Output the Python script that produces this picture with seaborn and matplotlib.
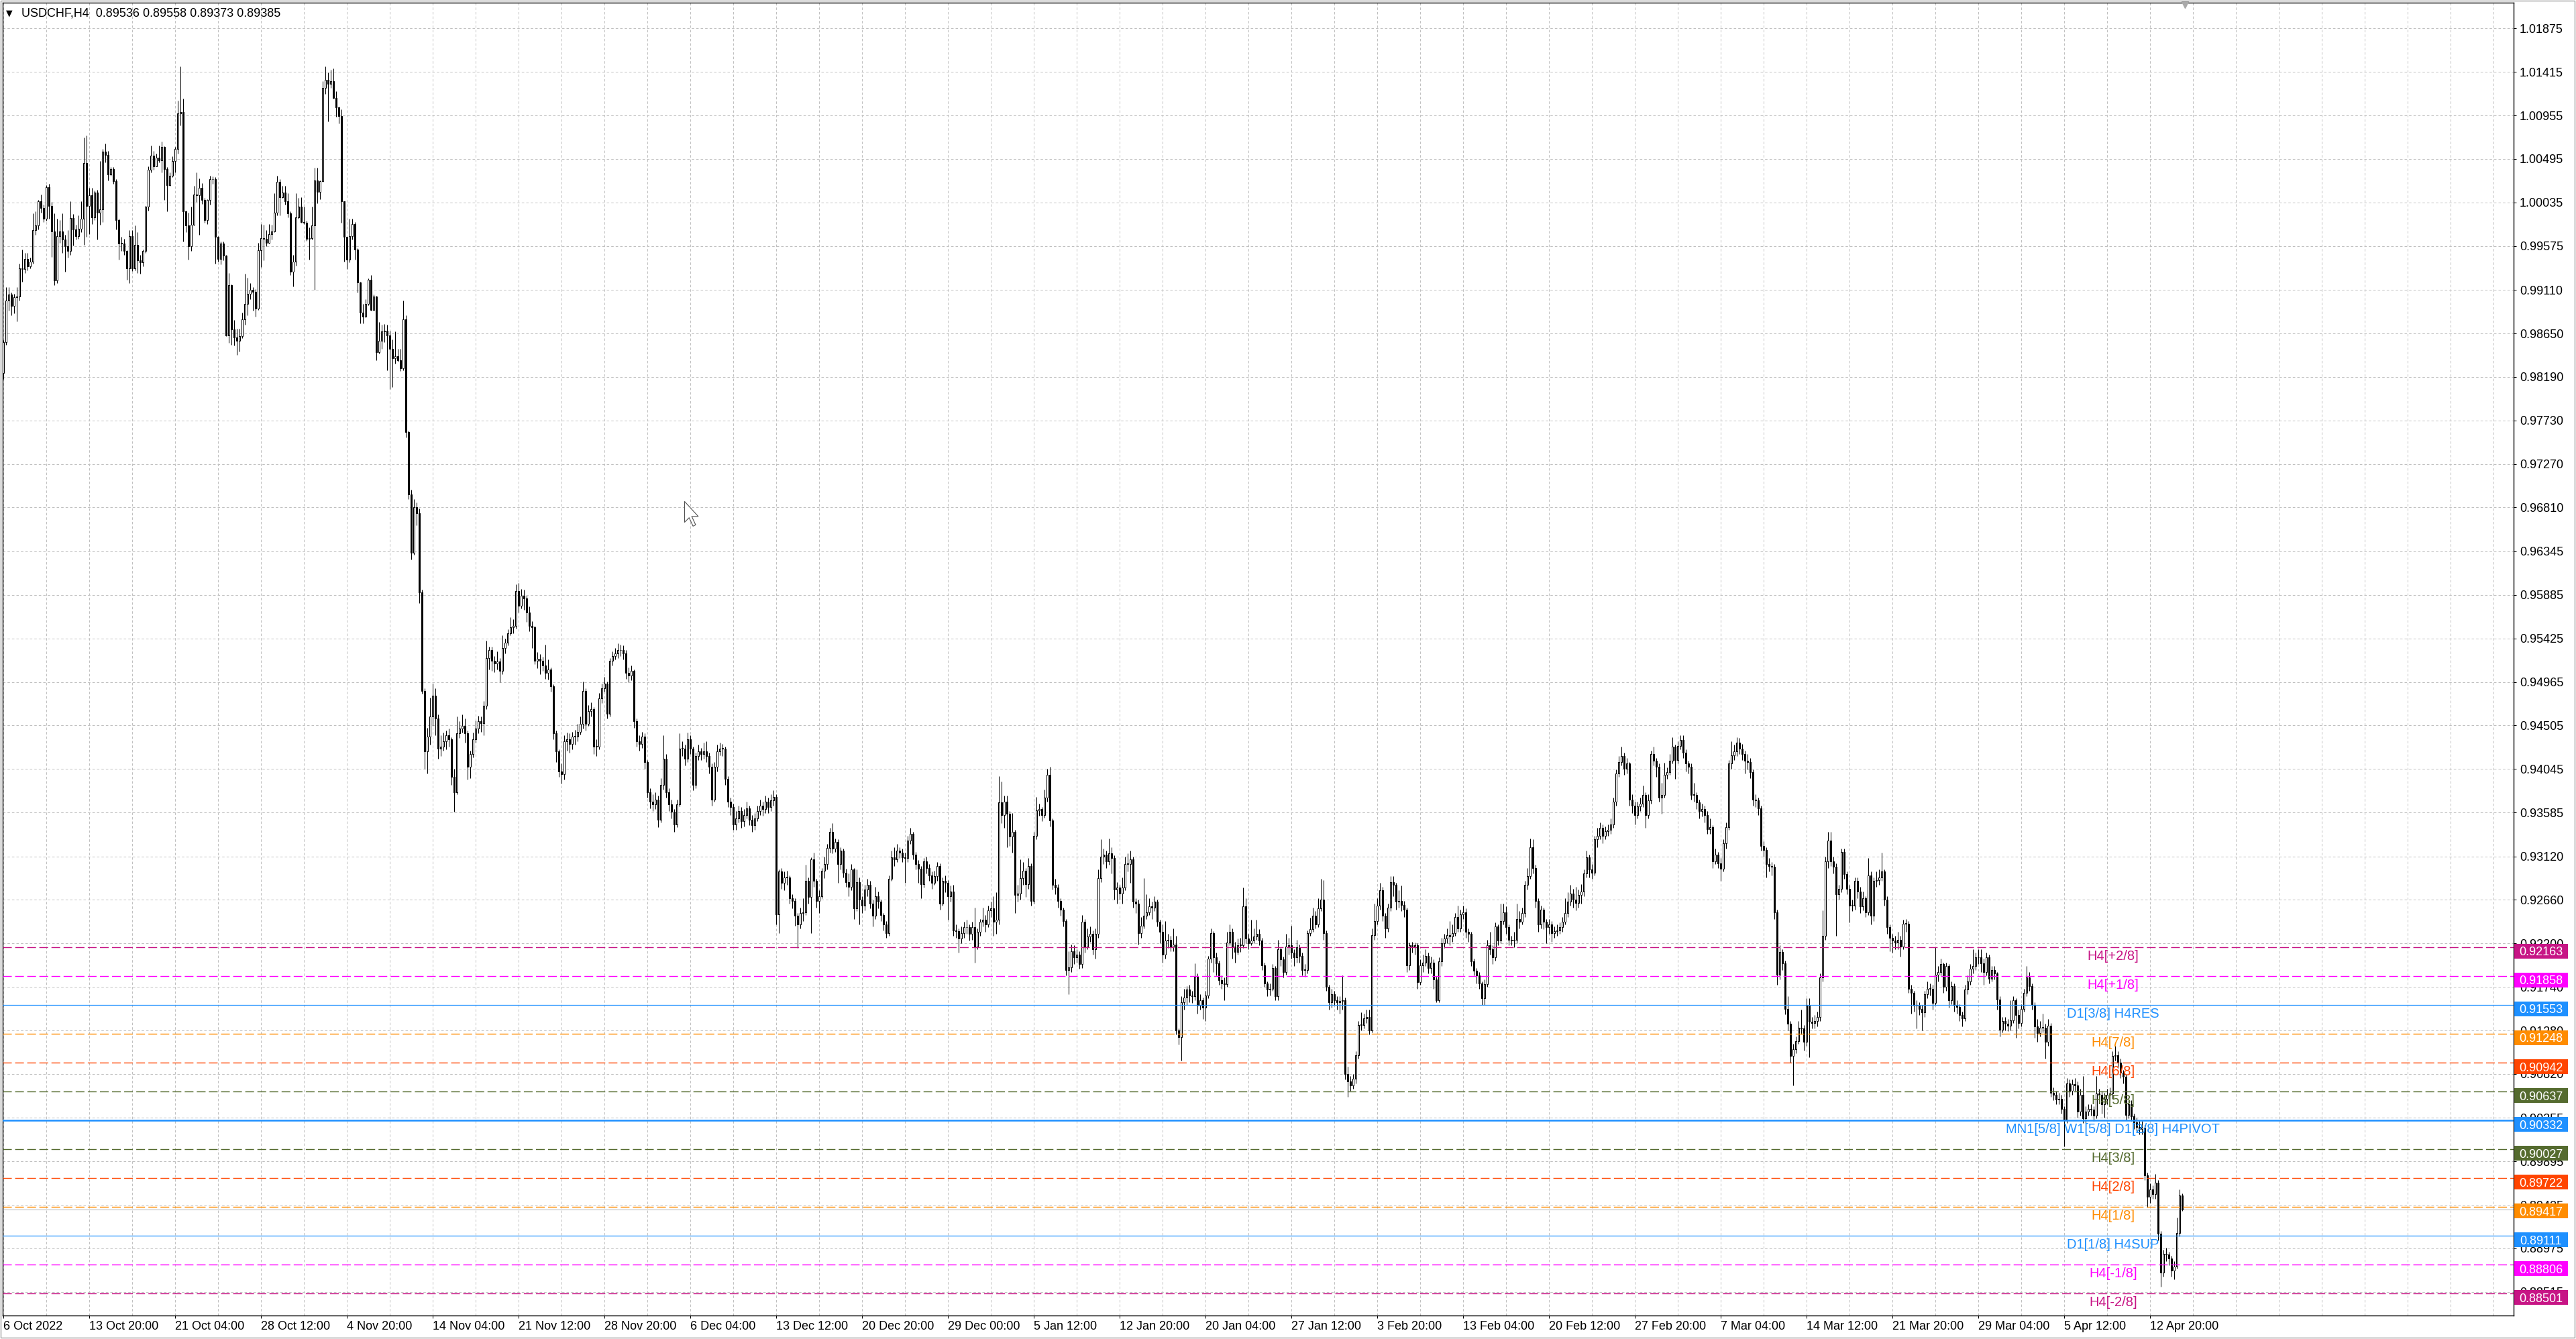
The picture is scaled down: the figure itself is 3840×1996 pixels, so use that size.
import numpy as np
import pandas as pd
import matplotlib
matplotlib.use("Agg")
import matplotlib.pyplot as plt
import seaborn as sns
from matplotlib.patches import Rectangle
from matplotlib.transforms import blended_transform_factory, offset_copy
from matplotlib.ticker import FixedLocator, FixedFormatter
from matplotlib.path import Path
from matplotlib.markers import MarkerStyle

sns.set_theme(style="white")
plt.rcParams["font.family"] = ["Liberation Sans", "DejaVu Sans"]
plt.rcParams["lines.scale_dashes"] = False

# ---------------- data (prices in pips, 1 pip = 0.0001) ----------------
symbol_title = "USDCHF,H4  0.89536 0.89558 0.89373 0.89385"
first_open = 9823

closes = [
    9856, 9900, 9906, 9894, 9903, 9904, 9934, 9933, 9944, 9936,          # 0
    9941, 9974, 9979, 10005, 9998, 9986, 10020, 10000, 9973, 9921,       # 10
    9968, 9973, 9964, 9957, 9952, 9987, 9975, 9968, 9976, 9986,          # 20
    10045, 10000, 10011, 9988, 10014, 9993, 9996, 10057, 10054, 10033,   # 30
    10039, 10026, 9985, 9960, 9960, 9952, 9934, 9968, 9934, 9959,        # 40
    9942, 9940, 9952, 9999, 10038, 10053, 10042, 10051, 10048, 10062,    # 50
    10039, 10022, 10032, 10047, 10060, 10098, 10099, 9994, 9979, 9957,   # 60
    9980, 10012, 10011, 10019, 10006, 9985, 10006, 10028, 10028, 9967,   # 70
    9944, 9960, 9947, 9863, 9916, 9869, 9861, 9857, 9862, 9880,          # 80
    9896, 9907, 9911, 9909, 9891, 9953, 9966, 9965, 9961, 9970,          # 90
    9973, 9993, 10025, 10009, 10014, 10005, 9992, 9930, 9941, 9988,      # 100
    9999, 9983, 9982, 9965, 9966, 9979, 10027, 10015, 10026, 10125,      # 110
    10133, 10129, 10132, 10114, 10104, 10095, 10005, 9967, 9943, 9968,   # 120
    9981, 9954, 9919, 9887, 9883, 9896, 9922, 9890, 9904, 9845,          # 130
    9857, 9867, 9868, 9863, 9849, 9839, 9841, 9837, 9828, 9880,          # 140
    9761, 9695, 9633, 9681, 9675, 9591, 9487, 9423, 9439, 9460,          # 150
    9482, 9458, 9426, 9428, 9434, 9440, 9436, 9396, 9380, 9442,          # 160
    9447, 9450, 9442, 9407, 9420, 9436, 9447, 9455, 9453, 9471,          # 170
    9522, 9530, 9519, 9516, 9518, 9508, 9532, 9538, 9548, 9554,          # 180
    9556, 9593, 9577, 9588, 9585, 9570, 9556, 9554, 9519, 9521,          # 190
    9519, 9514, 9506, 9510, 9492, 9442, 9423, 9402, 9399, 9434,          # 200
    9436, 9431, 9439, 9439, 9444, 9452, 9487, 9452, 9466, 9468,          # 210
    9428, 9428, 9479, 9490, 9495, 9463, 9519, 9524, 9527, 9530,          # 220
    9530, 9527, 9506, 9503, 9508, 9455, 9434, 9431, 9439, 9412,          # 230
    9380, 9370, 9367, 9372, 9351, 9388, 9415, 9380, 9367, 9359,          # 240
    9346, 9367, 9426, 9426, 9415, 9436, 9426, 9388, 9418, 9423,          # 250
    9420, 9423, 9418, 9407, 9372, 9407, 9423, 9426, 9426, 9394,          # 260
    9370, 9364, 9346, 9352, 9360, 9349, 9356, 9363, 9351, 9345,          # 270
    9352, 9360, 9366, 9362, 9370, 9364, 9371, 9375, 9251, 9296,          # 280
    9284, 9290, 9290, 9268, 9265, 9249, 9240, 9252, 9253, 9286,          # 290
    9269, 9309, 9286, 9265, 9270, 9297, 9304, 9321, 9338, 9320,          # 300
    9327, 9304, 9318, 9295, 9285, 9280, 9298, 9257, 9285, 9266,          # 310
    9260, 9277, 9282, 9262, 9249, 9270, 9264, 9250, 9240, 9231,          # 320
    9288, 9311, 9309, 9318, 9316, 9311, 9310, 9329, 9336, 9314,          # 330
    9304, 9299, 9283, 9307, 9300, 9292, 9284, 9291, 9302, 9262,          # 340
    9286, 9284, 9270, 9275, 9234, 9233, 9225, 9231, 9237, 9237,          # 350
    9230, 9237, 9217, 9232, 9243, 9245, 9240, 9255, 9257, 9243,          # 360
    9245, 9369, 9356, 9370, 9357, 9333, 9338, 9271, 9273, 9289,          # 370
    9297, 9283, 9302, 9265, 9334, 9361, 9362, 9356, 9374, 9398,          # 380
    9350, 9282, 9279, 9265, 9256, 9244, 9192, 9195, 9212, 9205,          # 390
    9208, 9198, 9243, 9217, 9227, 9230, 9214, 9230, 9289, 9312,          # 400
    9314, 9307, 9315, 9310, 9277, 9279, 9273, 9279, 9304, 9304,          # 410
    9309, 9264, 9262, 9231, 9239, 9249, 9253, 9259, 9258, 9264,          # 420
    9243, 9232, 9208, 9223, 9224, 9217, 9219, 9128, 9121, 9158,          # 430
    9163, 9171, 9165, 9164, 9185, 9154, 9160, 9152, 9165, 9204,          # 440
    9231, 9205, 9199, 9181, 9178, 9177, 9221, 9232, 9217, 9211,          # 450
    9218, 9218, 9259, 9225, 9220, 9223, 9227, 9230, 9223, 9197,          # 460
    9178, 9171, 9172, 9194, 9164, 9214, 9203, 9190, 9217, 9218,          # 470
    9210, 9205, 9216, 9207, 9192, 9192, 9231, 9235, 9249, 9240,          # 480
    9257, 9266, 9231, 9174, 9158, 9166, 9160, 9158, 9159, 9160,          # 490
    9082, 9074, 9070, 9077, 9102, 9134, 9134, 9141, 9142, 9128,          # 500
    9229, 9244, 9260, 9276, 9249, 9236, 9258, 9285, 9282, 9264,          # 510
    9265, 9261, 9256, 9197, 9218, 9217, 9218, 9179, 9197, 9200,          # 520
    9207, 9194, 9200, 9182, 9160, 9201, 9220, 9225, 9229, 9227,          # 530
    9231, 9248, 9236, 9251, 9253, 9232, 9230, 9201, 9191, 9186,          # 540
    9178, 9162, 9177, 9218, 9214, 9205, 9238, 9223, 9244, 9253,          # 550
    9237, 9224, 9223, 9224, 9246, 9243, 9252, 9282, 9291, 9322,          # 560
    9300, 9265, 9240, 9256, 9243, 9237, 9240, 9231, 9233, 9234,          # 570
    9237, 9243, 9252, 9264, 9273, 9266, 9263, 9271, 9275, 9294,          # 580
    9311, 9298, 9295, 9330, 9334, 9342, 9334, 9339, 9340, 9346,          # 590
    9370, 9400, 9412, 9418, 9405, 9410, 9372, 9366, 9356, 9365,          # 600
    9368, 9377, 9356, 9371, 9420, 9413, 9407, 9374, 9377, 9398,          # 610
    9401, 9413, 9428, 9414, 9429, 9435, 9422, 9410, 9407, 9377,          # 620
    9377, 9369, 9360, 9362, 9356, 9341, 9343, 9307, 9314, 9305,          # 630
    9299, 9326, 9343, 9410, 9419, 9423, 9432, 9426, 9420, 9413,          # 640
    9412, 9401, 9372, 9371, 9363, 9323, 9319, 9304, 9302, 9301,          # 650
    9253, 9187, 9211, 9199, 9151, 9135, 9101, 9108, 9117, 9131,          # 660
    9130, 9116, 9154, 9137, 9136, 9138, 9142, 9184, 9228, 9307,          # 670
    9329, 9307, 9301, 9272, 9278, 9317, 9293, 9278, 9260, 9260,          # 680
    9286, 9275, 9259, 9268, 9253, 9292, 9249, 9286, 9287, 9290,          # 690
    9296, 9266, 9237, 9226, 9223, 9221, 9224, 9217, 9241, 9241,          # 700
    9172, 9168, 9154, 9154, 9151, 9147, 9166, 9172, 9172, 9157,          # 710
    9187, 9190, 9198, 9174, 9196, 9160, 9175, 9154, 9153, 9144,          # 720
    9141, 9171, 9180, 9193, 9196, 9205, 9205, 9199, 9190, 9205,          # 730
    9183, 9192, 9188, 9161, 9129, 9138, 9135, 9133, 9139, 9160,          # 740
    9144, 9136, 9151, 9168, 9184, 9175, 9155, 9132, 9125, 9131,          # 750
    9131, 9116, 9133, 9062, 9060, 9055, 9056, 9045, 9033, 9072,          # 760
    9064, 9071, 9070, 9042, 9060, 9035, 9042, 9045, 9044, 9038,          # 770
    9061, 9060, 9050, 9056, 9060, 9061, 9101, 9102, 9094, 9083,          # 780
    9079, 9039, 9050, 9037, 9031, 9026, 9024, 9025, 8975, 8952,          # 790
    8960, 8955, 8967, 8913, 8872, 8892, 8891, 8887, 8874, 8878,          # 800
    8914, 8953.6, 8938.5,                                                # 810
]

highs = [
    9858, 9914, 9914, 9908, 9907, 9914, 9939, 9954, 9950, 9950,
    9945, 9992, 9994, 10006, 10012, 10001, 10022, 10023, 10004, 9992,
    9986, 9985, 9992, 9969, 9974, 10005, 9991, 9980, 9990, 10005,
    10072, 10074, 10019, 10019, 10016, 10017, 10047, 10060, 10066, 10058,
    10041, 10041, 10028, 9986, 9967, 9965, 9953, 9974, 9974, 9979,
    9972, 9948, 9954, 10000, 10042, 10064, 10058, 10055, 10064, 10068,
    10063, 10041, 10035, 10052, 10062, 10111, 10147, 10113, 9995, 9993,
    9999, 10021, 10035, 10029, 10024, 10008, 10007, 10032, 10031, 10030,
    9968, 9962, 9962, 9948, 9929, 9917, 9879, 9870, 9870, 9887,
    9928, 9924, 9918, 9914, 9912, 9961, 9981, 9980, 9974, 9981,
    9980, 10013, 10032, 10028, 10021, 10021, 10013, 9994, 9948, 10013,
    10008, 10009, 9999, 9984, 9977, 9999, 10040, 10040, 10027, 10132,
    10147, 10141, 10144, 10145, 10121, 10105, 10102, 10005, 9967, 9986,
    9986, 9983, 9955, 9920, 9896, 9901, 9923, 9927, 9906, 9905,
    9877, 9874, 9875, 9874, 9868, 9859, 9867, 9849, 9849, 9900,
    9884, 9762, 9700, 9690, 9686, 9680, 9594, 9490, 9448, 9480,
    9495, 9490, 9462, 9440, 9443, 9445, 9447, 9438, 9405, 9460,
    9455, 9462, 9458, 9445, 9424, 9443, 9456, 9461, 9460, 9476,
    9540, 9534, 9534, 9524, 9529, 9522, 9546, 9542, 9552, 9565,
    9563, 9600, 9601, 9595, 9594, 9588, 9576, 9561, 9556, 9528,
    9526, 9523, 9536, 9520, 9512, 9494, 9445, 9425, 9410, 9440,
    9443, 9442, 9444, 9446, 9452, 9460, 9497, 9490, 9472, 9475,
    9470, 9436, 9485, 9495, 9502, 9497, 9522, 9529, 9532, 9537,
    9536, 9535, 9530, 9512, 9514, 9510, 9458, 9440, 9444, 9442,
    9414, 9384, 9378, 9380, 9376, 9395, 9440, 9420, 9384, 9372,
    9362, 9372, 9442, 9434, 9430, 9443, 9440, 9428, 9422, 9430,
    9427, 9432, 9434, 9422, 9410, 9412, 9430, 9432, 9431, 9428,
    9397, 9374, 9368, 9360, 9366, 9364, 9362, 9370, 9366, 9356,
    9358, 9366, 9372, 9370, 9376, 9374, 9378, 9382, 9378, 9298,
    9300, 9296, 9297, 9292, 9272, 9268, 9252, 9258, 9268, 9303,
    9290, 9311, 9316, 9288, 9276, 9300, 9312, 9325, 9342, 9347,
    9331, 9330, 9322, 9320, 9299, 9294, 9304, 9300, 9298, 9290,
    9270, 9282, 9288, 9286, 9266, 9280, 9275, 9266, 9252, 9244,
    9292, 9318, 9322, 9325, 9322, 9320, 9316, 9334, 9342, 9338,
    9317, 9308, 9302, 9310, 9312, 9304, 9296, 9297, 9306, 9305,
    9290, 9292, 9287, 9281, 9282, 9240, 9236, 9238, 9243, 9245,
    9240, 9243, 9258, 9236, 9246, 9258, 9250, 9260, 9264, 9270,
    9274, 9397, 9391, 9376, 9376, 9360, 9358, 9340, 9282, 9309,
    9306, 9300, 9310, 9305, 9338, 9375, 9368, 9364, 9383, 9405,
    9407, 9352, 9288, 9283, 9268, 9258, 9246, 9212, 9219, 9218,
    9214, 9212, 9250, 9246, 9236, 9238, 9234, 9236, 9298, 9330,
    9320, 9318, 9331, 9322, 9313, 9285, 9282, 9290, 9312, 9315,
    9318, 9312, 9268, 9266, 9248, 9289, 9272, 9268, 9264, 9270,
    9266, 9245, 9240, 9244, 9230, 9228, 9236, 9228, 9130, 9164,
    9172, 9175, 9176, 9170, 9199, 9188, 9166, 9163, 9170, 9207,
    9236, 9233, 9210, 9202, 9186, 9184, 9232, 9240, 9236, 9222,
    9225, 9226, 9279, 9268, 9230, 9245, 9236, 9245, 9235, 9226,
    9200, 9180, 9178, 9198, 9196, 9224, 9216, 9206, 9230, 9226,
    9239, 9214, 9224, 9219, 9210, 9198, 9234, 9247, 9258, 9254,
    9268, 9288, 9287, 9234, 9176, 9172, 9170, 9164, 9164, 9186,
    9163, 9090, 9080, 9082, 9106, 9138, 9147, 9146, 9150, 9150,
    9236, 9262, 9268, 9284, 9280, 9252, 9262, 9291, 9291, 9284,
    9276, 9281, 9265, 9258, 9221, 9222, 9221, 9220, 9203, 9208,
    9214, 9210, 9206, 9203, 9185, 9205, 9226, 9230, 9236, 9244,
    9240, 9252, 9260, 9256, 9260, 9257, 9236, 9232, 9204, 9194,
    9190, 9180, 9182, 9224, 9232, 9218, 9242, 9240, 9262, 9262,
    9259, 9240, 9228, 9232, 9262, 9254, 9258, 9286, 9300, 9331,
    9330, 9303, 9268, 9260, 9258, 9246, 9246, 9244, 9238, 9240,
    9242, 9248, 9268, 9274, 9282, 9278, 9280, 9277, 9283, 9298,
    9318, 9314, 9304, 9334, 9342, 9348, 9346, 9344, 9346, 9352,
    9374, 9404, 9418, 9428, 9422, 9416, 9412, 9378, 9370, 9370,
    9374, 9387, 9380, 9378, 9424, 9428, 9416, 9410, 9390, 9411,
    9406, 9420, 9438, 9430, 9434, 9440, 9440, 9425, 9413, 9410,
    9390, 9380, 9372, 9368, 9366, 9360, 9352, 9345, 9320, 9317,
    9310, 9330, 9348, 9414, 9434, 9430, 9438, 9437, 9431, 9424,
    9420, 9416, 9404, 9378, 9374, 9366, 9328, 9322, 9310, 9306,
    9304, 9256, 9218, 9214, 9202, 9164, 9138, 9114, 9122, 9138,
    9150, 9134, 9162, 9162, 9142, 9144, 9148, 9188, 9255, 9312,
    9338, 9338, 9312, 9305, 9282, 9320, 9320, 9296, 9282, 9266,
    9290, 9290, 9280, 9275, 9270, 9310, 9296, 9290, 9296, 9298,
    9316, 9298, 9270, 9240, 9230, 9228, 9232, 9228, 9245, 9246,
    9244, 9176, 9170, 9160, 9158, 9155, 9170, 9180, 9178, 9176,
    9216, 9196, 9204, 9200, 9200, 9198, 9180, 9178, 9160, 9156,
    9148, 9176, 9186, 9198, 9214, 9210, 9214, 9214, 9204, 9210,
    9208, 9196, 9196, 9190, 9164, 9142, 9142, 9140, 9160, 9164,
    9162, 9150, 9156, 9172, 9196, 9190, 9178, 9158, 9140, 9138,
    9146, 9135, 9140, 9136, 9068, 9064, 9062, 9060, 9048, 9078,
    9076, 9076, 9078, 9074, 9066, 9080, 9048, 9050, 9050, 9048,
    9080, 9066, 9064, 9062, 9066, 9068, 9106, 9112, 9106, 9098,
    9086, 9082, 9054, 9054, 9040, 9036, 9032, 9032, 9028, 8978,
    8966, 8964, 8976, 8970, 8916, 8896, 8898, 8894, 8890, 8884,
    8930, 8960, 8955.8,
]

lows = [
    9817, 9853, 9889, 9884, 9886, 9878, 9900, 9920, 9929, 9932,
    9934, 9939, 9969, 9975, 9993, 9983, 9984, 9986, 9946, 9916,
    9918, 9961, 9950, 9930, 9945, 9948, 9958, 9964, 9965, 9972,
    9959, 9967, 9970, 9981, 9985, 9964, 9980, 9983, 10046, 10027,
    10032, 10023, 9975, 9943, 9952, 9948, 9922, 9918, 9931, 9932,
    9929, 9928, 9936, 9950, 9995, 10035, 10038, 10042, 10046, 10035,
    10006, 9994, 10021, 10030, 10035, 10055, 10085, 9962, 9972, 9943,
    9952, 9979, 10004, 9969, 10002, 9982, 9981, 10001, 10023, 9939,
    9941, 9938, 9942, 9862, 9855, 9853, 9852, 9842, 9846, 9860,
    9874, 9884, 9901, 9889, 9883, 9890, 9935, 9942, 9957, 9960,
    9964, 9972, 9990, 9990, 10008, 10001, 9988, 9927, 9915, 9937,
    9986, 9982, 9981, 9963, 9943, 9964, 9911, 10003, 10007, 10025,
    10118, 10089, 10125, 10113, 10094, 10087, 9982, 9941, 9933, 9940,
    9964, 9943, 9908, 9876, 9876, 9882, 9895, 9889, 9889, 9837,
    9844, 9849, 9856, 9826, 9806, 9808, 9833, 9835, 9825, 9826,
    9755, 9690, 9626, 9631, 9662, 9580, 9484, 9405, 9400, 9430,
    9450, 9440, 9415, 9418, 9424, 9425, 9428, 9388, 9359, 9378,
    9437, 9443, 9432, 9393, 9395, 9417, 9432, 9442, 9444, 9440,
    9468, 9510, 9508, 9507, 9510, 9496, 9505, 9527, 9535, 9546,
    9548, 9553, 9570, 9574, 9573, 9560, 9550, 9532, 9515, 9511,
    9505, 9508, 9500, 9499, 9486, 9436, 9412, 9396, 9389, 9393,
    9424, 9422, 9425, 9430, 9434, 9441, 9447, 9445, 9450, 9460,
    9420, 9418, 9425, 9474, 9486, 9458, 9460, 9514, 9520, 9522,
    9524, 9520, 9500, 9496, 9498, 9448, 9428, 9424, 9427, 9405,
    9374, 9363, 9360, 9362, 9343, 9348, 9383, 9374, 9360, 9352,
    9338, 9343, 9365, 9418, 9408, 9412, 9420, 9382, 9384, 9414,
    9414, 9415, 9412, 9400, 9366, 9370, 9402, 9419, 9418, 9388,
    9364, 9356, 9340, 9340, 9348, 9342, 9344, 9352, 9345, 9338,
    9340, 9349, 9356, 9355, 9358, 9358, 9360, 9366, 9240, 9231,
    9278, 9276, 9282, 9262, 9257, 9239, 9215, 9236, 9244, 9250,
    9262, 9231, 9280, 9258, 9252, 9268, 9289, 9298, 9316, 9315,
    9317, 9284, 9298, 9290, 9280, 9270, 9276, 9246, 9254, 9240,
    9252, 9255, 9270, 9257, 9238, 9246, 9257, 9244, 9234, 9226,
    9228, 9286, 9302, 9306, 9310, 9306, 9284, 9306, 9325, 9309,
    9298, 9284, 9268, 9279, 9294, 9286, 9278, 9282, 9286, 9256,
    9260, 9274, 9245, 9264, 9228, 9226, 9210, 9220, 9226, 9230,
    9223, 9224, 9200, 9214, 9228, 9238, 9232, 9237, 9248, 9228,
    9230, 9240, 9347, 9342, 9322, 9323, 9316, 9252, 9264, 9266,
    9282, 9269, 9278, 9260, 9262, 9330, 9355, 9349, 9353, 9370,
    9344, 9277, 9272, 9258, 9249, 9238, 9186, 9166, 9190, 9198,
    9200, 9193, 9194, 9210, 9214, 9222, 9208, 9204, 9226, 9285,
    9304, 9300, 9303, 9294, 9266, 9262, 9266, 9262, 9276, 9296,
    9284, 9258, 9252, 9219, 9226, 9236, 9246, 9250, 9246, 9254,
    9238, 9220, 9200, 9204, 9215, 9212, 9212, 9124, 9113, 9096,
    9150, 9155, 9158, 9157, 9160, 9146, 9150, 9140, 9138, 9162,
    9200, 9190, 9186, 9176, 9172, 9160, 9174, 9218, 9204, 9200,
    9208, 9211, 9215, 9220, 9214, 9218, 9220, 9224, 9218, 9192,
    9174, 9164, 9165, 9170, 9160, 9160, 9196, 9184, 9187, 9208,
    9204, 9196, 9200, 9200, 9186, 9185, 9188, 9228, 9232, 9236,
    9237, 9254, 9224, 9170, 9150, 9152, 9154, 9150, 9146, 9150,
    9076, 9058, 9064, 9066, 9072, 9098, 9128, 9130, 9136, 9124,
    9126, 9224, 9240, 9256, 9244, 9226, 9232, 9254, 9270, 9256,
    9258, 9254, 9248, 9190, 9192, 9210, 9208, 9172, 9176, 9190,
    9196, 9188, 9188, 9172, 9158, 9158, 9196, 9215, 9220, 9218,
    9222, 9228, 9232, 9232, 9246, 9226, 9222, 9196, 9186, 9178,
    9172, 9155, 9155, 9174, 9208, 9198, 9202, 9218, 9220, 9240,
    9230, 9218, 9218, 9216, 9220, 9236, 9240, 9248, 9277, 9288,
    9294, 9258, 9232, 9236, 9235, 9220, 9230, 9222, 9226, 9228,
    9230, 9232, 9240, 9248, 9260, 9258, 9255, 9258, 9262, 9270,
    9290, 9290, 9288, 9292, 9322, 9330, 9326, 9330, 9334, 9336,
    9342, 9366, 9396, 9408, 9398, 9400, 9366, 9358, 9346, 9352,
    9360, 9364, 9342, 9352, 9368, 9408, 9396, 9370, 9357, 9374,
    9394, 9398, 9410, 9394, 9410, 9425, 9416, 9402, 9400, 9372,
    9370, 9362, 9352, 9354, 9348, 9336, 9336, 9300, 9304, 9300,
    9286, 9296, 9320, 9340, 9405, 9414, 9418, 9420, 9414, 9400,
    9404, 9395, 9366, 9364, 9356, 9318, 9312, 9290, 9296, 9292,
    9246, 9176, 9182, 9192, 9145, 9128, 9094, 9070, 9104, 9114,
    9124, 9107, 9112, 9100, 9130, 9130, 9132, 9138, 9180, 9224,
    9300, 9302, 9294, 9228, 9266, 9274, 9288, 9272, 9242, 9254,
    9256, 9268, 9252, 9255, 9248, 9250, 9240, 9244, 9280, 9282,
    9286, 9260, 9230, 9212, 9210, 9214, 9214, 9206, 9214, 9232,
    9168, 9146, 9148, 9130, 9144, 9128, 9142, 9162, 9165, 9150,
    9154, 9180, 9186, 9168, 9170, 9152, 9156, 9148, 9146, 9138,
    9132, 9138, 9166, 9176, 9188, 9192, 9198, 9190, 9176, 9186,
    9178, 9180, 9182, 9150, 9122, 9126, 9128, 9127, 9128, 9136,
    9120, 9130, 9132, 9148, 9164, 9170, 9150, 9120, 9116, 9122,
    9126, 9098, 9112, 9058, 9054, 9050, 9050, 9040, 9005, 9030,
    9058, 9060, 9064, 9036, 9038, 9030, 9030, 9038, 9038, 9032,
    9035, 9052, 9040, 9036, 9050, 9054, 9056, 9096, 9088, 9078,
    9072, 9033, 9035, 9032, 9024, 9020, 9018, 9018, 8970, 8941,
    8946, 8950, 8950, 8906, 8857, 8868, 8884, 8880, 8868, 8865,
    8876, 8910, 8937.3,
]

x_labels = ["6 Oct 2022", "13 Oct 20:00", "21 Oct 04:00", "28 Oct 12:00", "4 Nov 20:00",
            "14 Nov 04:00", "21 Nov 12:00", "28 Nov 20:00", "6 Dec 04:00", "13 Dec 12:00",
            "20 Dec 20:00", "29 Dec 00:00", "5 Jan 12:00", "12 Jan 20:00", "20 Jan 04:00",
            "27 Jan 12:00", "3 Feb 20:00", "13 Feb 04:00", "20 Feb 12:00", "27 Feb 20:00",
            "7 Mar 04:00", "14 Mar 12:00", "21 Mar 20:00", "29 Mar 04:00", "5 Apr 12:00",
            "12 Apr 20:00"]
x_label_bars = list(range(0, 32 * len(x_labels), 32))

y_ticks = [1.01875, 1.01415, 1.00955, 1.00495, 1.00035, 0.99575, 0.99110, 0.98650,
           0.98190, 0.97730, 0.97270, 0.96810, 0.96345, 0.95885, 0.95425, 0.94965,
           0.94505, 0.94045, 0.93585, 0.93120, 0.92660, 0.92200, 0.91740, 0.91280,
           0.90820, 0.90355, 0.89895, 0.89435, 0.88975, 0.88515]

level_prices = [0.92163, 0.91858, 0.91553, 0.91248, 0.90942, 0.90637, 0.90332,
                0.90027, 0.89722, 0.89417, 0.89111, 0.88806, 0.88501]
level_names = ["H4[+2/8]", "H4[+1/8]", "D1[3/8] H4RES", "H4[7/8]", "H4[6/8]", "H4[5/8]",
               "MN1[5/8] W1[5/8] D1[2/8] H4PIVOT", "H4[3/8]", "H4[2/8]", "H4[1/8]",
               "D1[1/8] H4SUP", "H4[-1/8]", "H4[-2/8]"]
bid_price = 0.89385

# style (not data)
level_colors = ["#C71585", "#FF00FF", "#1E90FF", "#FF8C00", "#FF4500", "#556B2F", "#1E90FF",
                "#556B2F", "#FF4500", "#FF8C00", "#1E90FF", "#FF00FF", "#C71585"]

# ---------------- build frame ----------------
PIP = 1e-4
c = np.asarray(closes, float) * PIP
h = np.asarray(highs, float) * PIP
l = np.asarray(lows, float) * PIP
assert len(c) == len(h) == len(l), (len(c), len(h), len(l))
o = np.concatenate([[first_open * PIP], c[:-1]])
df = pd.DataFrame({"bar": np.arange(len(c)), "open": o, "high": h, "low": l, "close": c})

W, H = 3840, 1996
fig = plt.figure(figsize=(W / 100, H / 100), dpi=100, facecolor="white")
ax = fig.add_axes([4 / W, 35 / H, 3743 / W, 1957 / H])
ax.set_facecolor("white")
Y_TOP, Y_BOT = 1.021474, 0.882656
ax.set_xlim(-0.25, 935.5)
ax.set_ylim(Y_BOT, Y_TOP)
PX = (Y_TOP - Y_BOT) / 1957.0

# axes, ticks, grid
ax.yaxis.tick_right()
ax.yaxis.set_major_locator(FixedLocator(y_ticks))
ax.yaxis.set_major_formatter(FixedFormatter([f"{v:.5f}" for v in y_ticks]))
ax.xaxis.set_major_locator(FixedLocator(x_label_bars))
ax.xaxis.set_major_formatter(FixedFormatter(x_labels))
ax.xaxis.set_minor_locator(FixedLocator(list(range(16, 936, 16))))
grid_kw = dict(color="#C0C0C0", linestyle=(0, (2.6, 2.2)), linewidth=0.72)
ax.grid(True, which="major", axis="both", **grid_kw)
ax.grid(True, which="minor", axis="x", **grid_kw)
ax.set_axisbelow(True)
ax.tick_params(axis="y", which="major", right=True, left=False, labelright=True,
               labelleft=False, direction="out", length=3, width=0.72, pad=3.5,
               labelsize=13, labelcolor="black", color="black")
ax.tick_params(axis="x", which="major", bottom=True, direction="out", length=3,
               width=0.72, pad=2.5, labelsize=13, labelcolor="black", color="black")
ax.tick_params(axis="x", which="minor", bottom=False, length=0)
plt.setp(ax.get_xticklabels(), ha="left")
for s in ax.spines.values():
    s.set_visible(True)
    s.set_color("black")
    s.set_linewidth(1.0)

# candles
bull = (df["close"] >= df["open"]).to_numpy()
body_low = np.minimum(df["open"], df["close"]).to_numpy()
body_high = np.maximum(df["open"], df["close"]).to_numpy()
body_h = np.maximum(body_high - body_low, 0.7 * PX)
ax.vlines(df["bar"], np.minimum(df["low"], body_low), np.maximum(df["high"], body_high),
          colors="black", linewidth=0.75, zorder=2)
ax.bar(df["bar"], body_h, bottom=body_low, width=0.55,
       color=["white" if b else "black" for b in bull],
       edgecolor="black", linewidth=0.72, zorder=3)

# bid line
ax.axhline(bid_price, color="#C0C0C0", linewidth=0.8, zorder=1.8)

# levels
blend = blended_transform_factory(ax.transAxes, ax.transData)
label_tr = offset_copy(ax.transData, fig=fig, x=0, y=-4, units="dots")
for p, name, col in zip(level_prices, level_names, level_colors):
    if "PIVOT" in name:
        ls, lw = "-", 1.8
    elif name.startswith("D1"):
        ls, lw = "-", 0.9
    else:
        ls, lw = (0, (9.4, 3.6)), 1.0
    ax.axhline(p, color=col, linestyle=ls, linewidth=lw, zorder=4)
    ax.text(786.25, p, name, transform=label_tr, ha="center", va="top",
            fontsize=14.5, color=col, zorder=6)
    ax.add_patch(Rectangle((1.00027, p - 17 * PX), 0.02137, 22 * PX, transform=blend,
                           facecolor=col, edgecolor="none", clip_on=False, zorder=10))
    ax.text(1.01082, p - 12.9 * PX, f"{p:.5f}", transform=blend, ha="center",
            va="baseline", fontsize=13, color="white", zorder=11, clip_on=False)

# chart-shift marker and mouse cursor
ax.plot([813], [Y_TOP - 3 * PX], marker="v", markersize=7, color="#A9A9A9",
        linestyle="none", clip_on=False, zorder=12)
cursor = Path([(0, 0), (0, -16), (3.5, -12.5), (6.5, -19), (8.5, -18), (5.5, -11.5),
               (10.5, -11.5), (0, 0)],
              [Path.MOVETO] + [Path.LINETO] * 6 + [Path.CLOSEPOLY])
ax.plot([253.8], [Y_TOP - 743 * PX], marker=MarkerStyle(cursor), markersize=53,
        markerfacecolor="white", markeredgecolor="#505050", markeredgewidth=0.8,
        linestyle="none", zorder=12)

# title
fig.text(14 / W, 1 - 20 / H, "\u25BC", ha="center", va="center", fontsize=9,
         color="black", family=["DejaVu Sans"])
fig.text(32 / W, 1 - 20 / H, symbol_title, ha="left", va="center", fontsize=13,
         color="black")

# outer window frame
fig.add_artist(Rectangle((0.5 / W, 2.5 / H), 1 - 2.5 / W, 1 - 3.5 / H,
                         transform=fig.transFigure, fill=False,
                         edgecolor="#A0A0A0", linewidth=1.0))

fig.savefig("out.png", dpi=100, facecolor="white")
